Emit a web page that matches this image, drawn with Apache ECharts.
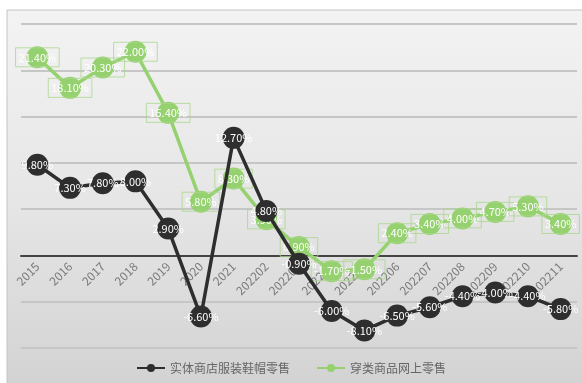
<!DOCTYPE html>
<html>
<head>
<meta charset="utf-8">
<script src="https://cdn.jsdelivr.net/npm/echarts@6/dist/echarts.min.js"></script>
<style>
  html, body { margin: 0; padding: 0; background: #fff; }
  #chart { width: 582px; height: 383px; }
</style>
</head>
<body>
<div id="chart"></div>
<script>
const categories = ['2015', '2016', '2017', '2018', '2019', '2020', '2021', '202202', '202203', '202204', '202205', '202206', '202207', '202208', '202209', '202210', '202211'];
const storeValues = [9.8, 7.3, 7.8, 8.0, 2.9, -6.6, 12.7, 4.8, -0.9, -6.0, -8.1, -6.5, -5.6, -4.4, -4.0, -4.4, -5.8];
const onlineValues = [21.4, 18.1, 20.3, 22.0, 15.4, 5.8, 8.3, 3.9, 0.9, -1.7, -1.5, 2.4, 3.4, 4.0, 4.7, 5.3, 3.4];
const seriesNames = ['实体商店服装鞋帽零售', '穿类商品网上零售'];

const yMin = -10, yMax = 25;
const gridTop = 24, gridBottom = 35, chartH = 383;

const chart = echarts.init(document.getElementById('chart'));

const fmt = function (p) {
  return p.value.toFixed(2) + '%';
};

// shift the category axis up to the zero line
const plotH = chartH - gridTop - gridBottom;
const zeroOffset = -plotH * (0 - yMin) / (yMax - yMin);

const option = {
  backgroundColor: '#fff',
  textStyle: { fontFamily: '"Noto Sans CJK SC", "Noto Sans", sans-serif' },
  graphic: [
    {
      type: 'rect',
      silent: true,
      z: -10,
      shape: { x: 7, y: 10, width: 580, height: 380 },
      style: {
        fill: {
          type: 'linear', x: 0, y: 0, x2: 0, y2: 1,
          colorStops: [
            { offset: 0, color: '#f3f3f3' },
            { offset: 0.5, color: '#e6e6e6' },
            { offset: 1, color: '#d2d2d2' }
          ]
        },
        stroke: '#c4c4c4',
        lineWidth: 1
      }
    }
  ],
  grid: { left: 21, right: 5, top: gridTop, bottom: gridBottom },
  legend: {
    bottom: 4,
    itemWidth: 28,
    itemHeight: 10,
    itemGap: 26,
    textStyle: { color: '#666', fontSize: 12 },
    data: seriesNames
  },
  xAxis: {
    type: 'category',
    data: categories,
    position: 'bottom',
    offset: zeroOffset,
    axisLine: { onZero: false, lineStyle: { color: '#444', width: 2 } },
    axisTick: { show: false },
    axisLabel: { rotate: 45, color: '#7a7a7a', fontSize: 12, margin: 9, interval: 0 }
  },
  yAxis: {
    type: 'value',
    min: yMin,
    max: yMax,
    interval: 5,
    axisLabel: { show: false },
    axisLine: { show: false },
    axisTick: { show: false },
    splitLine: { lineStyle: { color: '#c6c6c6', width: 2 } }
  },
  series: [
    {
      name: seriesNames[0],
      type: 'line',
      data: storeValues,
      z: 3,
      symbol: 'circle',
      symbolSize: 22,
      itemStyle: { color: '#2e2e2e' },
      lineStyle: { color: '#2e2e2e', width: 3.5 },
      label: {
        show: true,
        position: 'inside',
        color: '#fff',
        fontSize: 11,
        formatter: fmt
      }
    },
    {
      name: seriesNames[1],
      type: 'line',
      data: onlineValues,
      z: 2,
      symbol: 'circle',
      symbolSize: 22,
      itemStyle: { color: '#95d16f' },
      lineStyle: { color: '#95d16f', width: 3.5 },
      label: {
        show: true,
        position: 'inside',
        color: '#fff',
        fontSize: 11,
        formatter: fmt,
        borderColor: 'rgba(170, 215, 140, 0.8)',
        borderWidth: 1,
        padding: [4, 3]
      }
    }
  ]
};

chart.setOption(option);
</script>
</body>
</html>
